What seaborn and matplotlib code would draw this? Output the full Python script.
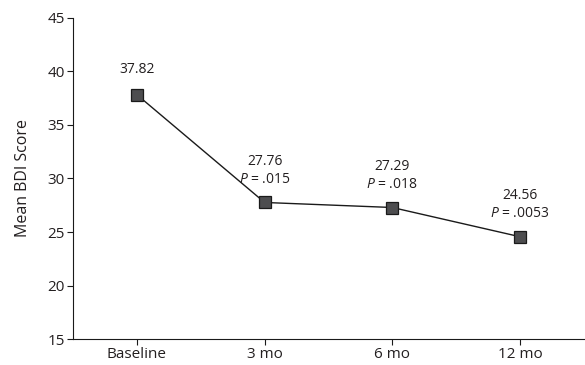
import matplotlib
matplotlib.use("Agg")
import matplotlib.pyplot as plt
import seaborn as sns
import pandas as pd

# data
timepoints = ["Baseline", "3 mo", "6 mo", "12 mo"]
means = [37.82, 27.76, 27.29, 24.56]
pvalues = [None, ".015", ".018", ".0053"]

df = pd.DataFrame({"Time": timepoints, "BDI": means})

sns.set_theme(style="ticks")
plt.rcParams["font.family"] = ["Open Sans", "DejaVu Sans"]
plt.rcParams["mathtext.fontset"] = "custom"
plt.rcParams["mathtext.it"] = "Open Sans:italic"
plt.rcParams["mathtext.rm"] = "Open Sans"
txt = "#231f20"

fig = plt.figure(figsize=(5.85, 3.65), dpi=100)
ax = fig.add_axes([0.125, 0.071, 0.873, 0.880])

sns.lineplot(data=df, x="Time", y="BDI", ax=ax, color="#1a1a1a", linewidth=1.0,
             marker="s", markersize=8.5, markerfacecolor="#4d4d4f",
             markeredgecolor="#1a1a1a", markeredgewidth=0.9)

# value labels (and P values) above the points
for i, (m, p) in enumerate(zip(means, pvalues)):
    if p is None:
        ax.annotate(f"{m:.2f}", (i, m), xytext=(0, 18), textcoords="offset points",
                    ha="center", va="center", fontsize=10, color=txt)
    else:
        ax.annotate(f"{m:.2f}", (i, m), xytext=(0, 29.5), textcoords="offset points",
                    ha="center", va="center", fontsize=10, color=txt)
        ax.annotate(f"$P$ = {p}", (i, m), xytext=(0, 16.5), textcoords="offset points",
                    ha="center", va="center", fontsize=10, color=txt)

ax.set_xlim(-0.5, 3.5)
ax.set_ylim(15, 45)
ax.set_yticks(range(15, 46, 5))
ax.set_xlabel("")
ax.set_ylabel("Mean BDI Score", fontsize=11.5, color=txt, labelpad=12)
ax.tick_params(axis="both", labelsize=11, colors="#1a1a1a", labelcolor=txt,
               length=4, width=0.8, direction="out", pad=2)
for s in ["top", "right"]:
    ax.spines[s].set_visible(False)
for s in ["left", "bottom"]:
    ax.spines[s].set_color("#1a1a1a")
    ax.spines[s].set_linewidth(0.8)

fig.savefig("out.png", dpi=100)
